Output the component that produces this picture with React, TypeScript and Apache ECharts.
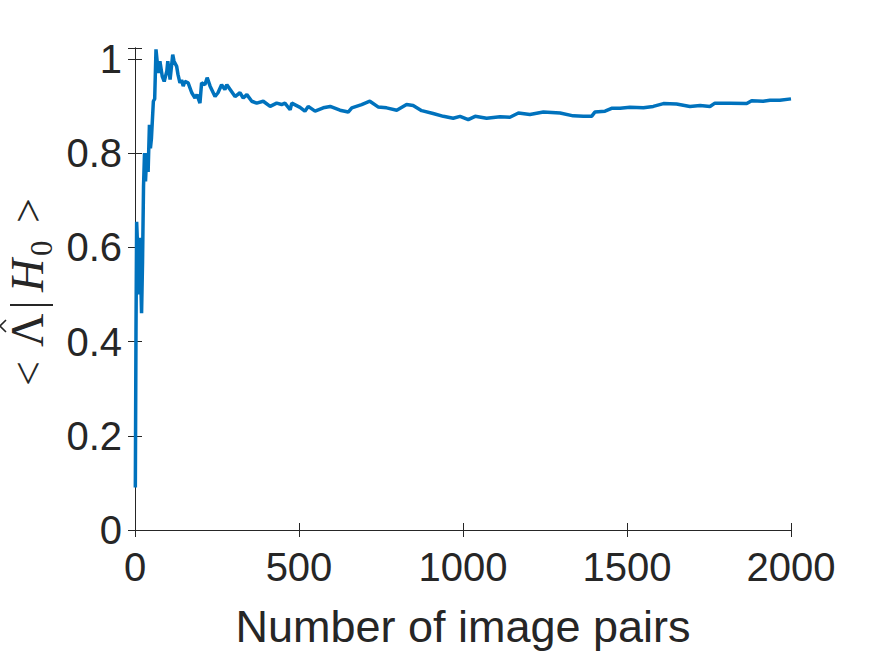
import React, { useEffect, useRef } from "react";
import * as echarts from "echarts";

const xValues: number[] = [
  1, 3, 5, 8, 11, 14, 17, 20, 23, 26, 29, 32, 36, 40, 44, 47, 50, 53, 56, 60, 64,
  71, 76, 83, 89, 97, 100, 107, 115, 119, 127, 131, 137, 142, 147, 152, 162, 173,
  183, 189, 198, 203, 213, 220, 229, 244, 253, 264, 274, 280, 290, 305, 320, 330,
  341, 356, 371, 391, 412, 432, 447, 457, 473, 478, 503, 518, 528, 549, 574, 595,
  625, 650, 661, 691, 716, 741, 767, 798, 828, 848, 874, 909, 940, 970, 991, 1016,
  1037, 1072, 1113, 1143, 1169, 1204, 1245, 1296, 1336, 1367, 1392, 1402, 1433,
  1453, 1479, 1509, 1550, 1580, 1611, 1651, 1692, 1723, 1753, 1768, 1814, 1865,
  1880, 1915, 1936, 1966, 2000,
];

const yValues: number[] = [
  0.09, 0.42, 0.654, 0.6, 0.5, 0.62, 0.55, 0.46, 0.57, 0.73, 0.8, 0.74, 0.8, 0.76,
  0.86, 0.81, 0.83, 0.87, 0.91, 0.915, 1.02,
  0.97, 0.995, 0.963, 0.952, 0.974, 0.995, 0.956, 1.009, 0.995, 0.984, 0.967,
  0.949, 0.955, 0.942, 0.952, 0.949, 0.928, 0.917, 0.924, 0.906, 0.949, 0.945,
  0.96, 0.942, 0.92, 0.928, 0.945, 0.935, 0.945, 0.935, 0.92, 0.928, 0.917, 0.924,
  0.91, 0.906, 0.91, 0.899, 0.906, 0.903, 0.906, 0.892, 0.906, 0.897, 0.889, 0.899,
  0.889, 0.896, 0.899, 0.891, 0.887, 0.896, 0.903, 0.91, 0.898, 0.896, 0.891, 0.903,
  0.901, 0.89, 0.884, 0.878, 0.874, 0.878, 0.871, 0.878, 0.874, 0.877, 0.876, 0.885,
  0.882, 0.887, 0.885, 0.879, 0.878, 0.878, 0.887, 0.889, 0.895, 0.895, 0.897,
  0.896, 0.899, 0.905, 0.904, 0.899, 0.901, 0.899, 0.906, 0.906, 0.905, 0.911, 0.91,
  0.912, 0.912, 0.915,
];

const xTicks: number[] = [0, 500, 1000, 1500, 2000];
const yTicks: number[] = [0, 0.2, 0.4, 0.6, 0.8, 1];

const xLabel = "Number of image pairs";

export default function App() {
  const ref = useRef<HTMLDivElement>(null);

  useEffect(() => {
    if (!ref.current) return;
    const chart = echarts.init(ref.current, null, { renderer: "svg" });
    const axisColor = "#262626";
    const tickFont = "Liberation Sans";
    const mathFont = "Liberation Serif";
    const data = xValues.map((x, i) => [x, yValues[i]]);
    const yFmt = (v: number) => {
      const hit = yTicks.find((t) => Math.abs(t - v) < 1e-6);
      return hit === undefined ? "" : String(hit);
    };
    const xFmt = (v: number) => (xTicks.includes(Math.round(v)) ? String(Math.round(v)) : "");

    // baseline placed at local y = base; 'middle' puts the em-box centre at y
    const mathText = (text: string, x: number, size: number, italic = false, base = 0) => ({
      type: "text",
      x,
      y: base - 0.3375 * size,
      style: {
        text,
        fill: axisColor,
        font: `${italic ? "italic " : ""}${size}px "${mathFont}"`,
        align: "left",
        verticalAlign: "middle",
      },
    });

    chart.setOption({
      animation: false,
      backgroundColor: "#ffffff",
      grid: { left: 135, right: 84, top: 48, bottom: 126, containLabel: false },
      xAxis: [
        {
          type: "value",
          min: 0,
          max: 2000,
          interval: 500,
          position: "bottom",
          axisLine: { show: true, lineStyle: { color: axisColor, width: 1 } },
          axisTick: { show: true, inside: true, length: 7, lineStyle: { color: axisColor } },
          splitLine: { show: false },
          axisLabel: {
            formatter: xFmt,
            color: axisColor,
            fontFamily: tickFont,
            fontSize: 40,
            margin: 17,
          },
          name: xLabel,
          nameLocation: "middle",
          nameGap: 74,
          nameTextStyle: { color: axisColor, fontFamily: tickFont, fontSize: 45 },
        },
        {
          type: "value",
          min: 0,
          max: 2000,
          interval: 500,
          position: "top",
          axisLine: { show: true, lineStyle: { color: axisColor, width: 1 } },
          axisTick: { show: true, inside: true, length: 7, lineStyle: { color: axisColor } },
          splitLine: { show: false },
          axisLabel: { show: false },
        },
      ],
      yAxis: [
        {
          type: "value",
          min: 0,
          max: 1.023,
          interval: 0.2,
          position: "left",
          axisLine: { show: true, lineStyle: { color: axisColor, width: 1 } },
          axisTick: { show: true, inside: true, length: 7, lineStyle: { color: axisColor } },
          splitLine: { show: false },
          axisLabel: {
            formatter: yFmt,
            color: axisColor,
            fontFamily: tickFont,
            fontSize: 40,
            margin: 13,
          },
        },
        {
          type: "value",
          min: 0,
          max: 1.023,
          interval: 0.2,
          position: "right",
          axisLine: { show: true, lineStyle: { color: axisColor, width: 1 } },
          axisTick: { show: true, inside: true, length: 7, lineStyle: { color: axisColor } },
          splitLine: { show: false },
          axisLabel: { show: false },
        },
      ],
      graphic: [
        {
          type: "group",
          x: 43,
          y: 386,
          rotation: Math.PI / 2,
          children: [
            mathText("<", 0, 44),
            mathText("Λ", 39, 46),
            {
              type: "polyline",
              shape: { points: [[54, -37], [60, -43], [66, -37]] },
              style: { stroke: axisColor, lineWidth: 1.6, fill: "none" },
            },
            {
              type: "line",
              shape: { x1: 81, y1: -33, x2: 81, y2: 10 },
              style: { stroke: axisColor, lineWidth: 2.2 },
            },
            mathText("H", 94, 46, true),
            mathText("0", 130, 31, false, 9),
            mathText(">", 163, 44),
          ],
        },
      ],
      series: [
        {
          type: "line",
          xAxisIndex: 0,
          yAxisIndex: 0,
          data,
          showSymbol: false,
          clip: true,
          lineStyle: { color: "#0072BD", width: 3.5 },
          itemStyle: { color: "#0072BD" },
        },
      ],
    });

    return () => chart.dispose();
  }, []);

  return (
    <div
      ref={ref}
      style={{ position: "fixed", left: 0, top: 0, width: 875, height: 656, background: "#fff" }}
    />
  );
}
